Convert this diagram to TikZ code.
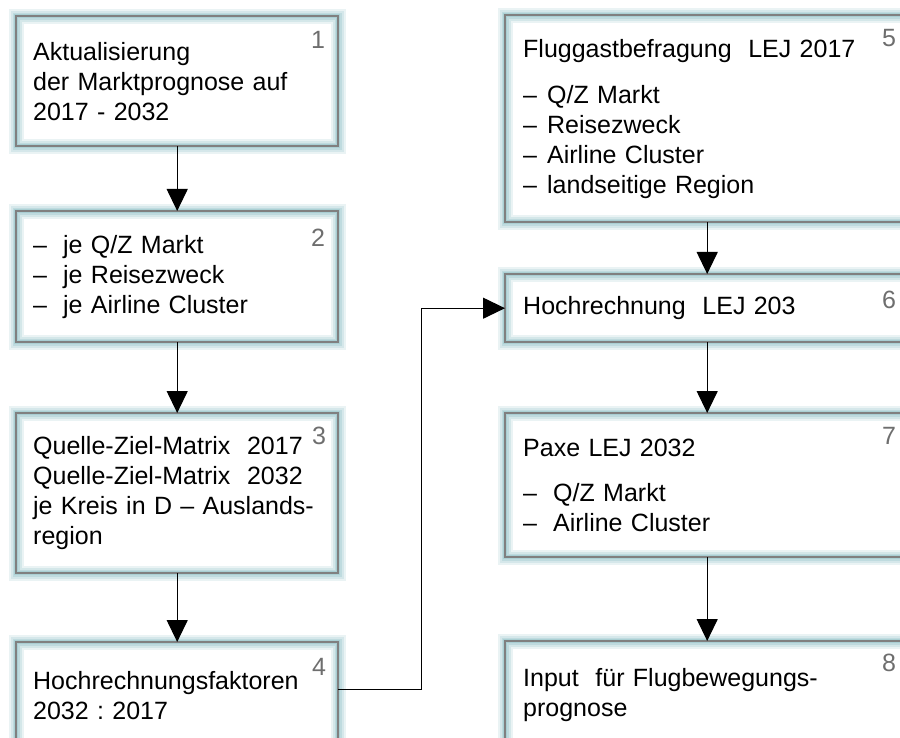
\documentclass[tikz,border=0pt]{standalone}
\usepackage{fontspec}
\setmainfont{Liberation Sans}
\usetikzlibrary{arrows.meta}

\definecolor{glow}{RGB}{150,196,202}
\definecolor{rand}{RGB}{128,128,128}
\definecolor{nrgrau}{RGB}{110,110,110}

\tikzset{
  stufe/.style={rectangle, fill=white, anchor=north west, align=left,
    inner xsep=17pt, inner ysep=0pt,
    font={\fontsize{25}{30}\selectfont\frenchspacing},
    postaction={draw=glow, line width=15pt, draw opacity=0.2},
    postaction={draw=glow, line width=11pt, draw opacity=0.25},
    postaction={draw=glow, line width=7pt, draw opacity=0.35},
    postaction={draw=glow, line width=4pt, draw opacity=0.5},
    postaction={draw=rand, line width=1.6pt}},
  links/.style={stufe, text width=288pt, minimum width=322pt},
  rechts/.style={stufe, text width=368pt, minimum width=404pt},
  nummer/.style={text=nrgrau, font={\fontsize{25}{25}\selectfont}},
}

\newcommand{\strich}[1]{\makebox[#1][l]{--}}

\begin{document}
\begin{tikzpicture}[>={Triangle[length=22pt,width=21pt]}, x=1pt, y=-1pt]

  \useasboundingbox (0,0) rectangle (900,738);
  \clip (0,0) rectangle (900,738);

  % linke Spalte
  \node[links, minimum height=130pt] (akt) at (16,16)
    {Aktualisierung\\der Marktprognose auf\\2017 - 2032};
  \node[links, minimum height=131pt] (je) at (16,211)
    {\strich{30pt}je Q/Z Markt\\\strich{30pt}je Reisezweck\\\strich{30pt}je Airline Cluster};
  \node[links, minimum height=160pt] (qzm) at (16,413)
    {Quelle-Ziel-Matrix\ \ 2017\\Quelle-Ziel-Matrix\ \ 2032\\je Kreis in D -- Auslands-\\region};
  \node[links, minimum height=106pt] (faktor) at (16,642)
    {Hochrechnungsfaktoren\\2032 : 2017};

  % rechte Spalte
  \node[rechts, minimum height=207pt] (befr) at (505,15)
    {Fluggastbefragung\ \ LEJ 2017\\[16pt]\strich{24pt}Q/Z Markt\\\strich{24pt}Reisezweck\\\strich{24pt}Airline Cluster\\\strich{24pt}landseitige Region};
  \node[rechts, minimum height=68pt] (hochr) at (505,274)
    {Hochrechnung\ \ LEJ 203};
  \node[rechts, minimum height=144pt] (paxe) at (505,413)
    {Paxe LEJ 2032\\[15pt]\strich{30pt}Q/Z Markt\\\strich{30pt}Airline Cluster};
  \node[rechts, minimum height=107pt] (input) at (505,641)
    {Input\ \ für Flugbewegungs-\\prognose};

  % Nummern
  \node[nummer] (n1) at (318,40) {1};
  \node[nummer] (n2) at (318,238) {2};
  \node[nummer] (n3) at (319,436) {3};
  \node[nummer] (n4) at (319,667) {4};
  \node[nummer] (n5) at (889,38) {5};
  \node[nummer] (n6) at (889,300) {6};
  \node[nummer] (n7) at (889,436) {7};
  \node[nummer] (n8) at (889,663) {8};

  % Pfeile
  \draw[->, line width=1.2pt] (akt) -- (je);
  \draw[->, line width=1.2pt] (je) -- (qzm);
  \draw[->, line width=1.2pt] (qzm) -- (faktor);
  \draw[->, line width=1.2pt] (befr) -- (hochr);
  \draw[->, line width=1.2pt] (hochr) -- (paxe);
  \draw[->, line width=1.2pt] (paxe) -- (input);
  \draw[->, line width=1.2pt] ([yshift=6pt]faktor.east) -- ++(83,0) |- (hochr.west);

\end{tikzpicture}
\end{document}
